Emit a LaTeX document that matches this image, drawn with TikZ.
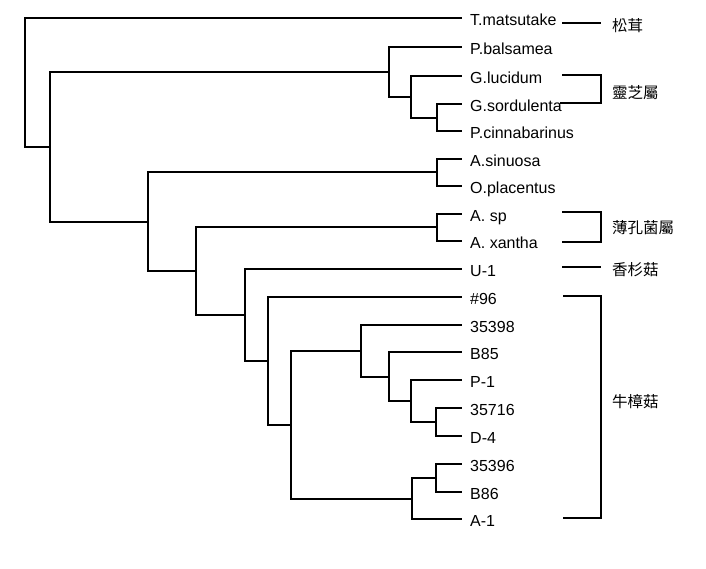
\documentclass[tikz,border=0pt]{standalone}
\usepackage{fontspec}
\setmainfont{Liberation Sans}
\newfontfamily\cjk{Noto Sans CJK TC}
\usepackage{tikz}
\tikzset{
  leaf/.style={anchor=west, inner xsep=8pt, inner ysep=0pt, text height=15.5pt, text depth=0pt, font=\fontsize{16}{19}\selectfont},
  group/.style={anchor=west, inner xsep=11pt, inner ysep=0pt, text height=17.1pt, text depth=0pt, font=\cjk\fontsize{15.5}{18}\selectfont},
  branch/.style={line width=1.9pt}
}

\begin{document}
\begin{tikzpicture}[x=1pt,y=-1pt]
            \useasboundingbox (0,0) rectangle (706,568);
            % Leaves
            \node[leaf] (tmat) at (462,18) {T.matsutake};
            \node[leaf] (pbal) at (462,47) {P.balsamea};
            \node[leaf] (gluc) at (462,76) {G.lucidum};
            \node[leaf] (gsor) at (462,104) {G.sordulenta};
            \node[leaf] (pcin) at (462,131) {P.cinnabarinus};
            \node[leaf] (asin) at (462,159) {A.sinuosa};
            \node[leaf] (opla) at (462,186) {O.placentus};
            \node[leaf] (asp) at (462,214) {A. sp};
            \node[leaf] (axan) at (462,241) {A. xantha};
            \node[leaf] (uone) at (462,269) {U-1};
            \node[leaf] (n96) at (462,297) {\#96};
            \node[leaf] (s35398) at (462,325) {35398};
            \node[leaf] (b85) at (462,352) {B85};
            \node[leaf] (pone) at (462,380) {P-1};
            \node[leaf] (s35716) at (462,408) {35716};
            \node[leaf] (dfour) at (462,436) {D-4};
            \node[leaf] (s35396) at (462,464) {35396};
            \node[leaf] (b86) at (462,492) {B86};
            \node[leaf] (aone) at (462,519) {A-1};
            % Internal nodes
            \coordinate (c1) at (437,118);
            \coordinate (c2) at (411,97);
            \coordinate (c3) at (389,72);
            \coordinate (c4) at (437,172);
            \coordinate (c5) at (437,227);
            \coordinate (c6) at (436,422);
            \coordinate (c7) at (411,401);
            \coordinate (c8) at (389,377);
            \coordinate (c9) at (361,351);
            \coordinate (c10) at (436,478);
            \coordinate (c11) at (412,499);
            \coordinate (c12) at (291,425);
            \coordinate (c13) at (268,361);
            \coordinate (c14) at (245,315);
            \coordinate (c15) at (196,271);
            \coordinate (c16) at (148,222);
            \coordinate (c17) at (50,147);
            \coordinate (root) at (25,82);
            % Branches
            \draw[branch] (c1) |- (gsor.west) (c1) |- (pcin.west);
            \draw[branch] (c2) |- (gluc.west) (c2) |- (c1);
            \draw[branch] (c3) |- (pbal.west) (c3) |- (c2);
            \draw[branch] (c4) |- (asin.west) (c4) |- (opla.west);
            \draw[branch] (c5) |- (asp.west) (c5) |- (axan.west);
            \draw[branch] (c6) |- (s35716.west) (c6) |- (dfour.west);
            \draw[branch] (c7) |- (pone.west) (c7) |- (c6);
            \draw[branch] (c8) |- (b85.west) (c8) |- (c7);
            \draw[branch] (c9) |- (s35398.west) (c9) |- (c8);
            \draw[branch] (c10) |- (s35396.west) (c10) |- (b86.west);
            \draw[branch] (c11) |- (c10) (c11) |- (aone.west);
            \draw[branch] (c12) |- (c9) (c12) |- (c11);
            \draw[branch] (c13) |- (n96.west) (c13) |- (c12);
            \draw[branch] (c14) |- (uone.west) (c14) |- (c13);
            \draw[branch] (c15) |- (c5) (c15) |- (c14);
            \draw[branch] (c16) |- (c4) (c16) |- (c15);
            \draw[branch] (c17) |- (c3) (c17) |- (c16);
            \draw[branch] (root) |- (tmat.west) (root) |- (c17);
            % Groups
            \node[group] (song) at (601,23) {松茸};
            \node[group] (lingzhi) at (601,90) {靈芝屬};
            \node[group] (baokong) at (601,225) {薄孔菌屬};
            \node[group] (xiangshan) at (601,267) {香杉菇};
            \node[group] (niuzhang) at (601,399) {牛樟菇};
            \coordinate (g1) at (562,23);
            \coordinate (g2a) at (562,75);
            \coordinate (g2b) at (560,103);
            \coordinate (g3a) at (562,212);
            \coordinate (g3b) at (562,242);
            \coordinate (g4) at (562,267);
            \coordinate (g5a) at (563,296);
            \coordinate (g5b) at (563,518);
            \draw[branch] (g1) -- (song.west);
            \draw[branch] (g2a) -- (g2a -| lingzhi.west) |- (g2b);
            \draw[branch] (g3a) -- (g3a -| baokong.west) |- (g3b);
            \draw[branch] (g4) -- (xiangshan.west);
            \draw[branch] (g5a) -- (g5a -| niuzhang.west) |- (g5b);
        \end{tikzpicture}
\end{document}
